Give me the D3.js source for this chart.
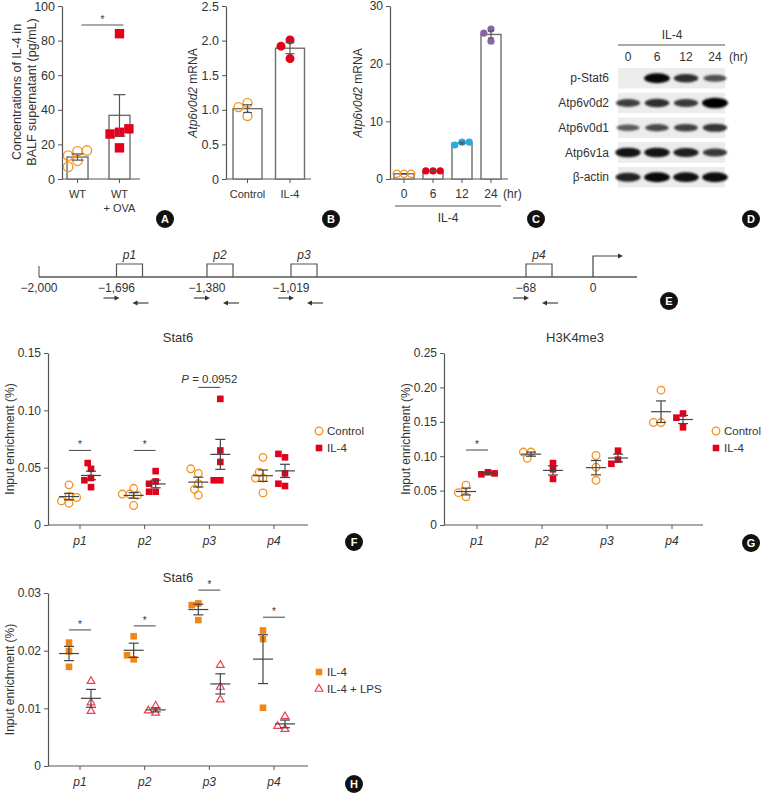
<!DOCTYPE html>
<html><head><meta charset="utf-8">
<script src="https://cdn.jsdelivr.net/npm/d3@7/dist/d3.min.js"></script>
<style>
body{margin:0;background:#fff;}
svg{display:block;}
</style></head><body>
<svg id="fig" width="761" height="794"></svg>
<script>
// ---------------- DATA ----------------
// Panel A
const aGroups = ["WT", "WT + OVA"];
const aLabels = [["WT"], ["WT", "+ OVA"]];
const aValues = [[16, 13.5, 16.5, 10.5, 7], [84, 27, 26, 29, 18]];
const aTicks = [0, 20, 40, 60, 80, 100];
const aSig = 89;
// Panel B
const bGroups = ["Control", "IL-4"];
const bValues = [[1.10, 1.04, 0.91], [2.01, 1.92, 1.74]];
const bTicks = [0, 0.5, 1.0, 1.5, 2.0, 2.5];
// Panel C
const cGroups = ["0", "6", "12", "24"];
const cValues = [[0.9, 0.9, 0.9], [1.4, 1.4, 1.4], [6.4, 5.9, 6.4], [26.0, 25.3, 23.9]];
const cTicks = [0, 10, 20, 30];
// Panel D (western blot band intensities, 0-1)
const dLanes = ["0", "6", "12", "24"];
const dProteins = ["p-Stat6", "Atp6v0d2", "Atp6v0d1", "Atp6v1a", "β-actin"];
const dBands = [
  [0.0, 0.95, 0.72, 0.5],
  [0.62, 0.72, 0.66, 1.0],
  [0.45, 0.55, 0.6, 0.68],
  [0.88, 0.88, 0.82, 0.66],
  [0.78, 0.95, 0.9, 0.92]
];
// Panel E
const eSites = [-2000, -1696, -1380, -1019, -68, 0];
const eSiteLabels = ["\u22122,000", "\u22121,696", "\u22121,380", "\u22121,019", "\u221268", "0"];
const eRegions = ["p1", "p2", "p3", "p4"];
const eRegionStart = [-1696, -1380, -1019, -68];
// Panels F, G, H
const regions = ["p1", "p2", "p3", "p4"];
const fSeries = ["Control", "IL-4"];
const fControl = [[0.035, 0.025, 0.019, 0.021, 0.024], [0.032, 0.027, 0.026, 0.027, 0.017],
                  [0.045, 0.049, 0.036, 0.031, 0.026], [0.059, 0.041, 0.041, 0.046, 0.028]];
const fIL4 = [[0.049, 0.054, 0.041, 0.039, 0.033], [0.047, 0.038, 0.036, 0.029, 0.029],
              [0.110, 0.065, 0.055, 0.039, 0.039], [0.059, 0.062, 0.045, 0.034, 0.036]];
const fTicks = [0, 0.05, 0.10, 0.15];
const fSig = [["p1", 0.065, "*"], ["p2", 0.065, "*"], ["p3", 0.12, "P = 0.0952"]];

const gSeries = ["Control", "IL-4"];
const gControl = [[0.058, 0.041, 0.047], [0.106, 0.097, 0.106], [0.101, 0.084, 0.065], [0.196, 0.149, 0.149]];
const gIL4 = [[0.0766, 0.0737, 0.075], [0.090, 0.081, 0.067], [0.108, 0.095, 0.089], [0.162, 0.156, 0.142]];
const gTicks = [0, 0.05, 0.10, 0.15, 0.20, 0.25];
const gSig = [["p1", 0.109, "*"]];

const hSeries = ["IL-4", "IL-4 + LPS"];
const hIL4 = [[0.0214, 0.0199, 0.0172], [0.0225, 0.0185, 0.0192], [0.0282, 0.0279, 0.0253], [0.0235, 0.022, 0.0101]];
const hLPS = [[0.0147, 0.011, 0.0095], [0.0104, 0.0092, 0.0096], [0.0175, 0.0137, 0.0115], [0.0086, 0.0064, 0.0069]];
const hTicks = [0, 0.01, 0.02, 0.03];
const hSig = [["p1", 0.0236, "*"], ["p2", 0.0243, "*"], ["p3", 0.0305, "*"], ["p4", 0.0258, "*"]];

// ---------------- STYLE ----------------
const FONT = '"Liberation Sans", Arial, Helvetica, sans-serif';
const AXC = "#555";
const ORANGE = "#f5921e", RED = "#e2001a", CYAN = "#29abe2", PURPLE = "#8c62aa", HORANGE = "#f08519", TRI = "#ee3e4f";

const svg = d3.select("#fig").style("font-family", FONT);
const defs = svg.append("defs");
defs.append("filter").attr("id", "blur").attr("x", "-30%").attr("y", "-100%").attr("width", "160%").attr("height", "300%")
  .append("feGaussianBlur").attr("stdDeviation", 1.2);

function stats(v) { return { m: d3.mean(v), s: d3.deviation(v) / Math.sqrt(v.length) }; }

function dodge(vals, y, r, f = 1.8) {
  const placed = [];
  const cands = [0, -1, 1, -2, 2, -3, 3, -4, 4];
  return vals.map(v => {
    const yy = y(v);
    for (const k of cands) {
      const dx = k * r;
      if (placed.every(p => Math.hypot(p.dx - dx, p.y - yy) >= f * r)) { placed.push({ dx, y: yy }); return dx; }
    }
    placed.push({ dx: 0, y: yy }); return 0;
  });
}

function drawPoint(g, shape, color, cx, cy, r) {
  if (shape === "circleOpen") {
    g.append("circle").attr("cx", cx).attr("cy", cy).attr("r", r).attr("fill", "none").attr("stroke", color).attr("stroke-width", 1.3);
  } else if (shape === "circleFill") {
    g.append("circle").attr("cx", cx).attr("cy", cy).attr("r", r).attr("fill", color);
  } else if (shape === "square") {
    g.append("rect").attr("x", cx - r).attr("y", cy - r).attr("width", 2 * r).attr("height", 2 * r).attr("fill", color);
  } else if (shape === "triangleOpen") {
    g.append("path").attr("d", d3.symbol(d3.symbolTriangle, r * r * 1.9)())
      .attr("transform", `translate(${cx},${cy})`).attr("fill", "#fff").attr("stroke", color).attr("stroke-width", 1.2);
  }
}

function yAxis(g, y, ticks, fmt, x, fs) {
  const ax = g.append("g").attr("transform", `translate(${x},0)`)
    .call(d3.axisLeft(y).tickValues(ticks).tickFormat(fmt).tickSize(4).tickSizeOuter(0));
  ax.attr("font-family", FONT).attr("font-size", fs);
  ax.select(".domain").attr("stroke", AXC).attr("stroke-width", 1.2);
  ax.selectAll(".tick line").attr("stroke", AXC);
  ax.selectAll(".tick text").attr("fill", "#333");
  return ax;
}

function yLabel(g, x, y, parts, fs) {
  const t = g.append("text").attr("transform", `translate(${x},${y}) rotate(-90)`)
    .attr("text-anchor", "middle").attr("dy", "0.35em").attr("font-size", fs).attr("fill", "#333");
  parts.forEach(p => t.append("tspan").attr("font-style", p[1] ? "italic" : "normal").text(p[0]));
}

function badge(x, y, letter) {
  svg.append("circle").attr("cx", x).attr("cy", y).attr("r", 9).attr("fill", "#111");
  svg.append("text").attr("x", x).attr("y", y).attr("dy", "0.36em").attr("text-anchor", "middle")
    .attr("fill", "#fff").attr("font-weight", "bold").attr("font-size", 11).text(letter);
}

function errBar(g, cx, y, st, cap, color = AXC) {
  g.append("line").attr("x1", cx).attr("x2", cx).attr("y1", y(st.m - st.s)).attr("y2", y(st.m + st.s)).attr("stroke", color).attr("stroke-width", 1.2);
  [st.m - st.s, st.m + st.s].forEach(v => g.append("line").attr("x1", cx - cap / 2).attr("x2", cx + cap / 2)
    .attr("y1", y(v)).attr("y2", y(v)).attr("stroke", color).attr("stroke-width", 1.2));
}

function star(g, x, y) {
  g.append("text").attr("x", x).attr("y", y).attr("text-anchor", "middle").attr("font-size", 10)
    .attr("fill", "#333").attr("stroke", "none").text("*");
}

// ---------------- BAR PANELS ----------------
function barPanel(o) {
  const g = svg.append("g");
  const y = d3.scaleLinear().domain([0, o.ticks[o.ticks.length - 1]]).range([o.yBottom, o.yTop]);
  const x = d3.scaleBand().domain(o.groups).range(o.xRange).paddingInner(o.pi).paddingOuter(o.po);
  const bw = x.bandwidth();
  yAxis(g, y, o.ticks, o.fmt, o.xRange[0], o.tickFs);
  g.append("line").attr("x1", o.xRange[0]).attr("x2", o.xEnd).attr("y1", o.yBottom).attr("y2", o.yBottom)
    .attr("stroke", AXC).attr("stroke-width", 1.2);
  o.groups.forEach((k, i) => {
    const cx = x(k) + bw / 2;
    const st = stats(o.values[i]);
    g.append("rect").attr("x", x(k)).attr("y", y(st.m)).attr("width", bw).attr("height", y(0) - y(st.m))
      .attr("fill", "#fff").attr("stroke", "#6e6e6e").attr("stroke-width", 1.4);
    g.append("line").attr("x1", cx).attr("x2", cx).attr("y1", o.yBottom).attr("y2", o.yBottom + 4).attr("stroke", AXC);
    const offs = dodge(o.values[i], y, o.r);
    o.values[i].forEach((v, j) => drawPoint(g, o.shapes[i], o.colors[i], cx + offs[j], y(v), o.r));
    errBar(g, cx, y, st, o.cap);
    const lab = o.labels[i];
    lab.forEach((t, li) => g.append("text").attr("x", cx).attr("y", o.yBottom + 15 + li * 14).attr("dy", "0.35em")
      .attr("text-anchor", "middle").attr("font-size", o.xFs).attr("fill", "#333").text(t));
  });
  return { g, x, y, bw };
}

// Panel A
{
  const p = barPanel({ groups: aGroups, labels: aLabels, values: aValues, ticks: aTicks, fmt: d => d,
    yBottom: 179, yTop: 6, xRange: [62, 135], pi: 0.5, po: 0.12, xEnd: 140, tickFs: 12.5, xFs: 11,
    shapes: ["circleOpen", "square"], colors: [ORANGE, RED], r: 4.7, cap: 12 });
  const x1 = p.x(aGroups[0]) + p.bw / 2 + 4, x2 = p.x(aGroups[1]) + p.bw / 2 + 4;
  p.g.append("line").attr("x1", x1).attr("x2", x2).attr("y1", p.y(aSig)).attr("y2", p.y(aSig)).attr("stroke", AXC).attr("stroke-width", 1.1);
  star(p.g, (x1 + x2) / 2, p.y(aSig) - 2);
  yLabel(p.g, 17, 92, [["Concentrations of IL-4 in", false]], 12.5);
  yLabel(p.g, 32, 92, [["BALF supernatant (pg/mL)", false]], 12.5);
}
// Panel B
{
  const p = barPanel({ groups: bGroups, labels: bGroups.map(d => [d]), values: bValues, ticks: bTicks,
    fmt: d => d === 0 ? "0" : d3.format(".1f")(d),
    yBottom: 179, yTop: 6, xRange: [226, 311.5], pi: 0.318, po: 0.165, xEnd: 311, tickFs: 12.5, xFs: 11,
    shapes: ["circleOpen", "circleFill"], colors: [ORANGE, RED], r: 4.5, cap: 9 });
  yLabel(p.g, 193, 93, [["Atp6v0d2", true], [" mRNA", false]], 12);
}
// Panel C
{
  const p = barPanel({ groups: cGroups, labels: cGroups.map(d => [d]), values: cValues, ticks: cTicks, fmt: d => d,
    yBottom: 179, yTop: 6, xRange: [390, 505], pi: 0.31, po: 0.138, xEnd: 508, tickFs: 12, xFs: 12,
    shapes: ["circleOpen", "circleFill", "circleFill", "circleFill"], colors: [ORANGE, RED, CYAN, PURPLE], r: 3.6, cap: 6 });
  p.g.append("text").attr("x", 503).attr("y", 194).attr("dy", "0.35em").attr("font-size", 12).attr("fill", "#333").text("(hr)");
  p.g.append("line").attr("x1", 395).attr("x2", 501).attr("y1", 206).attr("y2", 206).attr("stroke", AXC).attr("stroke-width", 1.1);
  p.g.append("text").attr("x", 448).attr("y", 218).attr("dy", "0.35em").attr("text-anchor", "middle").attr("font-size", 12).attr("fill", "#333").text("IL-4");
  yLabel(p.g, 358, 93, [["Atp6v0d2", true], [" mRNA", false]], 12);
}
// Panel D - western blot
{
  const g = svg.append("g");
  const lane = d3.scalePoint().domain(dLanes).range([628, 715]);
  const row = d3.scaleBand().domain(dProteins).range([68, 187.5]).paddingInner(0.17);
  g.append("text").attr("x", 672).attr("y", 35).attr("dy", "0.35em").attr("text-anchor", "middle").attr("font-size", 12).attr("fill", "#333").text("IL-4");
  g.append("line").attr("x1", 618).attr("x2", 725).attr("y1", 45).attr("y2", 45).attr("stroke", AXC).attr("stroke-width", 1.1);
  dLanes.forEach(l => g.append("text").attr("x", lane(l)).attr("y", 57).attr("dy", "0.35em").attr("text-anchor", "middle")
    .attr("font-size", 12).attr("fill", "#333").text(l));
  g.append("text").attr("x", 729).attr("y", 57).attr("dy", "0.35em").attr("font-size", 12).attr("fill", "#333").text("(hr)");
  dProteins.forEach((pr, ri) => {
    const y0 = row(pr), h = row.bandwidth(), cy = y0 + h / 2;
    g.append("rect").attr("x", 618).attr("y", y0).attr("width", 107).attr("height", h).attr("fill", "#ececec");
    g.append("text").attr("x", 609).attr("y", cy).attr("dy", "0.35em").attr("text-anchor", "end").attr("font-size", 12).attr("fill", "#333").text(pr);
    dLanes.forEach((l, li) => {
      const v = dBands[ri][li];
      if (v <= 0) return;
      g.append("ellipse").attr("cx", lane(l)).attr("cy", cy).attr("rx", 10.5 + 2.5 * v).attr("ry", 1.8 + 3.4 * v)
        .attr("fill", "#050505").attr("opacity", 0.3 + 0.7 * v).attr("filter", "url(#blur)");
    });
  });
}
// Panel E - promoter map
{
  const g = svg.append("g");
  const s = d3.scaleLinear().domain(eSites).range([39, 116.5, 207, 291, 526, 593]);
  const ly = 277, bw = 26;
  g.append("line").attr("x1", s(-2000)).attr("x2", 637).attr("y1", ly).attr("y2", ly).attr("stroke", AXC).attr("stroke-width", 1.3);
  g.append("line").attr("x1", s(-2000)).attr("x2", s(-2000)).attr("y1", ly - 11).attr("y2", ly).attr("stroke", AXC).attr("stroke-width", 1.1);
  eSites.forEach((p, i) => g.append("text").attr("x", s(p)).attr("y", ly + 11).attr("dy", "0.35em").attr("text-anchor", "middle")
    .attr("font-size", 12).attr("fill", "#333").text(eSiteLabels[i]));
  const head = (gg, x, y, dir) => gg.append("path")
    .attr("d", `M${x},${y} L${x - 5 * dir},${y - 2.6} L${x - 5 * dir},${y + 2.6} Z`).attr("fill", "#333");
  eRegions.forEach((r, i) => {
    const x0 = s(eRegionStart[i]);
    g.append("path").attr("d", `M${x0},${ly} V${ly - 13} H${x0 + bw} V${ly}`).attr("fill", "none").attr("stroke", "#555").attr("stroke-width", 1.2);
    g.append("text").attr("x", x0 + bw / 2).attr("y", 255).attr("dy", "0.35em").attr("text-anchor", "middle")
      .attr("font-size", 12).attr("font-style", "italic").attr("fill", "#333").text(r);
    g.append("line").attr("x1", x0 - 13).attr("x2", x0 + 0).attr("y1", 298).attr("y2", 298).attr("stroke", "#333").attr("stroke-width", 1.1);
    head(g, x0 + 3, 298, 1);
    g.append("line").attr("x1", x0 + 32).attr("x2", x0 + 19).attr("y1", 303).attr("y2", 303).attr("stroke", "#333").attr("stroke-width", 1.1);
    head(g, x0 + 16, 303, -1);
  });
  g.append("path").attr("d", `M${s(0)},${ly} V256 H618`).attr("fill", "none").attr("stroke", "#444").attr("stroke-width", 1.2);
  head(g, 623, 256, 1);
}

// ---------------- SCATTER PANELS ----------------
function scatterPanel(o) {
  const g = svg.append("g");
  const top = o.ticks[o.ticks.length - 1];
  const y = d3.scaleLinear().domain([0, top]).range([o.yBottom, o.yTop]);
  const x = d3.scalePoint().domain(regions).range(o.xRange);
  const sub = d3.scalePoint().domain(o.series).range([-11, 11]);
  yAxis(g, y, o.ticks, d => d === 0 ? "0" : d3.format(".2f")(d), o.x0, 12);
  g.append("line").attr("x1", o.x0).attr("x2", o.xEnd).attr("y1", o.yBottom).attr("y2", o.yBottom).attr("stroke", AXC).attr("stroke-width", 1.2);
  regions.forEach(r => {
    g.append("line").attr("x1", x(r)).attr("x2", x(r)).attr("y1", o.yBottom).attr("y2", o.yBottom + 4).attr("stroke", AXC);
    g.append("text").attr("x", x(r)).attr("y", o.yBottom + 16).attr("dy", "0.35em").attr("text-anchor", "middle")
      .attr("font-size", 12).attr("font-style", "italic").attr("fill", "#333").text(r);
  });
  g.append("text").attr("x", o.titleX).attr("y", o.titleY).attr("dy", "0.35em").attr("text-anchor", "middle").attr("font-size", 13).attr("fill", "#333").text(o.title);
  yLabel(g, o.x0 - 38, (o.yBottom + o.yTop) / 2, [["Input enrichment (%)", false]], 12);
  o.data.forEach((ser, si) => ser.forEach((vals, ri) => {
    const cx = x(regions[ri]) + sub(o.series[si]);
    const offs = dodge(vals, y, o.r[si]);
    vals.forEach((v, j) => drawPoint(g, o.shapes[si], o.colors[si], cx + offs[j], y(v), o.r[si]));
    const st = stats(vals);
    g.append("line").attr("x1", cx - 10).attr("x2", cx + 10).attr("y1", y(st.m)).attr("y2", y(st.m)).attr("stroke", "#444").attr("stroke-width", 1.2);
    errBar(g, cx, y, st, 10, "#444");
  }));
  o.sig.forEach(([r, v, lab]) => {
    const x1 = x(r) + sub(o.series[0]), x2 = x(r) + sub(o.series[1]);
    g.append("line").attr("x1", x1).attr("x2", x2).attr("y1", y(v)).attr("y2", y(v)).attr("stroke", AXC).attr("stroke-width", 1.1);
    if (lab === "*") {
      star(g, (x1 + x2) / 2, y(v) - 2);
    } else {
      const t = g.append("text").attr("x", (x1 + x2) / 2).attr("y", y(v) - 8).attr("dy", "0.35em").attr("text-anchor", "middle").attr("font-size", 11.5).attr("fill", "#333");
      t.append("tspan").attr("font-style", "italic").text(lab.slice(0, 1));
      t.append("tspan").text(lab.slice(1));
    }
  });
  o.series.forEach((sname, si) => {
    const ly = o.legendY + si * 17;
    drawPoint(g, o.shapes[si], o.colors[si], o.legendX, ly, o.r[si]);
    g.append("text").attr("x", o.legendX + 8).attr("y", ly).attr("dy", "0.35em").attr("font-size", 11.5).attr("fill", "#333").text(sname);
  });
}

scatterPanel({ title: "Stat6", titleX: 178, titleY: 337, ticks: fTicks, yBottom: 525, yTop: 353, x0: 48, xEnd: 308,
  xRange: [80, 274], series: fSeries, data: [fControl, fIL4], shapes: ["circleOpen", "square"], colors: [ORANGE, RED],
  r: [3.8, 3.3], sig: fSig, legendX: 319, legendY: 431 });
scatterPanel({ title: "H3K4me3", titleX: 575, titleY: 337, ticks: gTicks, yBottom: 525, yTop: 353, x0: 444, xEnd: 703,
  xRange: [477, 672], series: gSeries, data: [gControl, gIL4], shapes: ["circleOpen", "square"], colors: [ORANGE, RED],
  r: [3.8, 3.3], sig: gSig, legendX: 716, legendY: 431 });
scatterPanel({ title: "Stat6", titleX: 178, titleY: 577, ticks: hTicks, yBottom: 766, yTop: 593, x0: 48, xEnd: 308,
  xRange: [80, 274], series: hSeries, data: [hIL4, hLPS], shapes: ["square", "triangleOpen"], colors: [HORANGE, TRI],
  r: [3.3, 3.7], sig: hSig, legendX: 319, legendY: 672 });

// ---------------- BADGES ----------------
badge(165, 219, "A"); badge(331, 219, "B"); badge(536, 219, "C"); badge(751, 219, "D");
badge(669, 301, "E"); badge(354, 542, "F"); badge(751, 543, "G"); badge(354, 784, "H");
</script></body></html>
